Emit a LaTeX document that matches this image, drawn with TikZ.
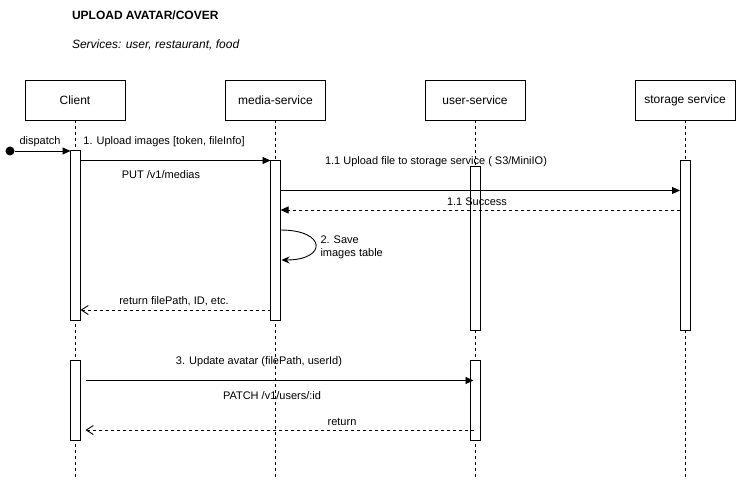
\documentclass[tikz,border=0pt]{standalone}
\usepackage{fontspec}
\setmainfont{Liberation Sans}
\usetikzlibrary{arrows.meta,calc}
\begin{document}
\begin{tikzpicture}[x=1pt,y=-1pt,
  every node/.style={font=\fontsize{11}{13}\selectfont, inner sep=0pt, outer sep=0pt},
  actor/.style={draw, line width=0.9pt, minimum width=100pt, minimum height=40pt, fill=white, font=\fontsize{12}{14}\selectfont},
  bar/.style={draw, line width=0.9pt, fill=white, minimum width=10pt},
  life/.style={line width=0.9pt, dash pattern=on 3pt off 3pt},
  msg/.style={line width=0.9pt, -{Triangle[length=8pt,width=7pt]}},
  dmsg/.style={line width=0.9pt, dash pattern=on 3pt off 3pt, -{Triangle[length=8pt,width=7pt]}},
  reply/.style={line width=0.9pt, dash pattern=on 3pt off 3pt, -{Straight Barb[length=7pt,width=9pt]}},
  selfmsg/.style={line width=0.9pt, -{Stealth[length=8pt,width=7pt]}},
  lbl/.style={font=\fontsize{11}{13}\selectfont}
]
\useasboundingbox[fill=white] (0,0) rectangle (736,481);

% title
\node[anchor=west, font=\fontsize{12}{14}\selectfont\bfseries] (title) at (72,15.5) {UPLOAD AVATAR/COVER};
\node[anchor=west, font=\fontsize{12}{14}\selectfont\itshape] (sub) at (72,45) {Services: user, restaurant, food};

% actors
\node[actor] (client) at (75,100) {Client};
\node[actor] (media) at (275.5,100) {media-service};
\node[actor] (user) at (475,100) {user-service};
\node[actor] (storage) at (685,100) {storage service};

% lifelines
\coordinate (cend) at (75,478);
\coordinate (mend) at (275.5,478);
\coordinate (uend) at (475,478);
\coordinate (send) at (685,478);
\draw[life] (client.south) -- (cend);
\draw[life] (media.south) -- (mend);
\draw[life] (user.south) -- (uend);
\draw[life] (storage.south) -- (send);

% activation bars
\node[bar, minimum height=170pt] (cb1) at (75.5,235) {};
\node[bar, minimum height=160pt] (mb) at (275.5,240) {};
\node[bar, minimum height=164pt] (ub1) at (475.5,248) {};
\node[bar, minimum height=170pt] (sb) at (685,245) {};
\node[bar, minimum height=80pt] (cb2) at (75.5,400) {};
\node[bar, minimum height=80pt] (ub2) at (475.5,400) {};

% dispatch
\node[circle, fill=black, minimum size=9pt] (start) at (10,151) {};
\draw[msg] (start) -- (cb1.west |- start);
\node[lbl] (ldispatch) at (40,142) {dispatch};

% 1. Upload images
\draw[msg] (cb1.east |- 0,160.5) -- (mb.west |- 0,160.5);
\node[lbl] (l1) at (164,142) {1. Upload images [token, fileInfo]};
\node[lbl] (l1b) at (161,175) {PUT /v1/medias};

% 1.1 Upload file
\draw[msg] (mb.east |- 0,190.5) -- (sb.west |- 0,190.5);
\node[lbl] (l11) at (436,161.5) {1.1 Upload file to storage service ( S3/MiniIO)};

% 1.1 Success
\draw[dmsg] (sb.west |- 0,210) -- (mb.east |- 0,210);
\node[lbl] (l11s) at (477,201.5) {1.1 Success};

% 2. Save
\draw[selfmsg] (mb.east |- 0,230) .. controls (327,230) and (327,260) .. ($(mb.east |- 0,260)+(1,0)$);
\node[lbl, anchor=west, align=left] (l2) at (320.5,247.5) {2. Save\\images table};

% return filePath
\draw[reply] (mb.west |- 0,310) -- (cb1.east |- 0,310);
\node[lbl] (lret1) at (174,301.5) {return filePath, ID, etc.};

% 3. Update avatar
\draw[msg] ($(cb2.east |- 0,380.5)+(5,0)$) -- ($(ub2.west |- 0,380.5)+(3,0)$);
\node[lbl] (l3) at (259,361.5) {3. Update avatar (filePath, userId)};
\node[lbl] (l3b) at (272,395.5) {PATCH /v1/users/:id};

% return
\draw[reply] ($(ub2.west |- 0,430)+(3,0)$) -- ($(cb2.east |- 0,430)+(5,0)$);
\node[lbl] (lret2) at (342,421.5) {return};
\end{tikzpicture}
\end{document}
